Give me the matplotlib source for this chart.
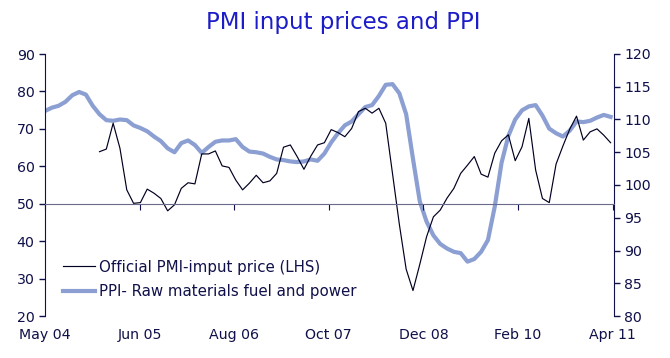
import numpy as np
import matplotlib
matplotlib.use("Agg")
import matplotlib.pyplot as plt

# Monthly data, May 04 - Apr 11 (PPI) and Jan 05 - Apr 11 (PMI input prices)
ppi_raw = [111.3, 111.8, 112.1, 112.7, 113.7, 114.2, 113.8, 112.1,
           110.8, 109.9, 109.8, 110.0, 109.9, 109.1, 108.7, 108.2, 107.4, 106.7, 105.6, 105.0,
           106.4, 106.8, 106.1, 104.9, 105.8, 106.6, 106.8, 106.8, 107.0, 105.8, 105.1, 105.0,
           104.8, 104.3, 103.9, 103.8, 103.6, 103.5, 103.6, 103.9, 103.7, 104.8, 106.5, 107.9,
           109.1, 109.7, 110.8, 111.9, 112.2, 113.6, 115.3, 115.4, 114.0, 110.8, 104.0, 97.5,
           94.4, 92.3, 91.0, 90.3, 89.8, 89.6, 88.3, 88.7, 89.8, 91.6, 96.7, 103.4,
           107.5, 110.0, 111.4, 112.0, 112.2, 110.6, 108.6, 107.9, 107.4, 108.3, 109.7, 109.6,
           109.8, 110.3, 110.7, 110.4]

pmi_input = [63.9, 64.6, 71.5, 64.8, 53.7, 50.1, 50.3, 53.9, 52.8, 51.4, 48.1, 49.7,
             54.1, 55.6, 55.3, 63.3, 63.3, 64.1, 60.1, 59.7, 56.3, 53.7, 55.5, 57.6,
             55.6, 56.1, 58.1, 65.1, 65.7, 62.6, 59.2, 62.7, 65.7, 66.3, 69.8, 69.0,
             67.9, 70.1, 74.6, 75.5, 74.2, 75.5, 71.5, 58.0, 44.5, 32.5, 26.8, 33.8,
             41.2, 46.5, 48.3, 51.5, 54.1, 58.1, 60.3, 62.6, 57.9, 57.1, 63.5, 66.8,
             68.4, 61.5, 65.2, 72.8, 59.0, 51.4, 50.3, 60.6, 65.4, 69.9, 73.4, 67.0,
             69.2, 70.0, 68.3, 66.3]

x_labels = ["May 04", "Jun 05", "Aug 06", "Oct 07", "Dec 08", "Feb 10", "Apr 11"]

x_ppi = np.arange(len(ppi_raw))
x_pmi = np.arange(8, 8 + len(pmi_input))  # PMI series starts Jan 05

navy = "#10104a"
plt.rcParams["font.family"] = ["DejaVu Sans"]

fig = plt.figure(figsize=(6.7, 3.58), dpi=100)
ax = fig.add_axes([45 / 670, 1 - 316 / 358, 569 / 670, 262 / 358])
ax2 = ax.twinx()
ax.set_zorder(ax2.get_zorder() + 1)
ax.patch.set_visible(False)

l2, = ax2.plot(x_ppi, ppi_raw, color="#8c9fd2", lw=3.0, solid_joinstyle="round",
               label="PPI- Raw materials fuel and power")
l1, = ax.plot(x_pmi, pmi_input, color="#000020", lw=0.85,
              label="Official PMI-imput price (LHS)")

ax.set_xlim(0, 83.5)
ax.set_ylim(20, 90)
ax.set_yticks(range(20, 91, 10))
ax2.set_ylim(80, 120)
ax2.set_yticks(range(80, 121, 5))

for a in (ax, ax2):
    a.spines["top"].set_visible(False)
    a.spines["left"].set_color(navy)
    a.spines["right"].set_color(navy)
    a.tick_params(axis="y", colors=navy, labelcolor=navy, labelsize=10.2, length=4, width=1)

ax2.spines["bottom"].set_visible(False)
ax.spines["right"].set_visible(False)
ax2.spines["left"].set_visible(False)

# x axis crosses at 50 on the left scale
ax.spines["bottom"].set_position(("data", 50))
ax.spines["bottom"].set_color("#6a6a8a")
tick_pos = np.linspace(0, 83.3, 7)
ax.set_xticks(tick_pos)
ax.set_xticklabels([])
ax.tick_params(axis="x", direction="out", length=4, colors=navy)
for xp, lab in zip(tick_pos, x_labels):
    ax.text(xp, -0.045, lab, transform=ax.get_xaxis_transform(), ha="center", va="top",
            fontsize=10.2, color=navy)

leg = ax.legend(handles=[l1, l2], loc="lower left", bbox_to_anchor=(0.032, 0.065),
                frameon=False, fontsize=10.8, handlelength=2.1, handletextpad=0.27,
                labelspacing=0.62, borderaxespad=0, borderpad=0)
for t in leg.get_texts():
    t.set_color(navy)

fig.text(343 / 670, 1 - 22 / 358, "PMI input prices and PPI", ha="center", va="center",
         fontsize=16.5, color="#1c1cc8")

fig.savefig("out.png", dpi=100)
